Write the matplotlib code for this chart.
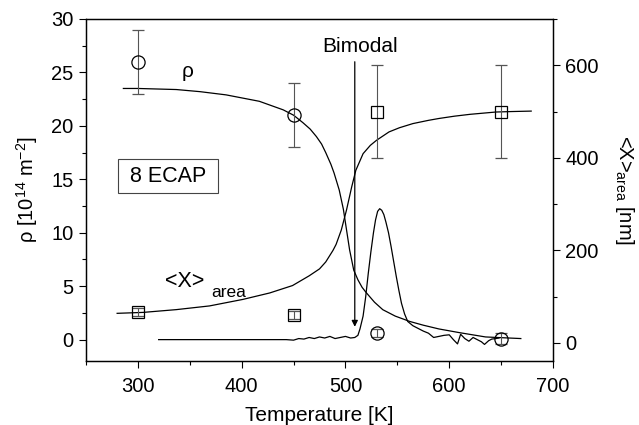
import matplotlib
matplotlib.use('Agg')
import matplotlib.pyplot as plt
from matplotlib.patches import Rectangle
from matplotlib.ticker import MultipleLocator

plt.rcParams['font.family'] = ['Liberation Sans', 'DejaVu Sans']
plt.rcParams['mathtext.fontset'] = 'custom'
plt.rcParams['mathtext.rm'] = 'Liberation Sans'
plt.rcParams['mathtext.it'] = 'Liberation Sans'

# dislocation density rho (left axis)
rho_T = [300, 450, 530, 650]
rho_val = [26, 21, 0.6, 0.1]
rho_err = [3, 3, 0.4, 0.5]

# area weighted crystallite size <X>area (right axis)
x_T = [300, 450, 530, 650]
x_val = [67, 60, 500, 500]
x_err = [8, 8, 100, 100]

# guide curve for rho
rho_fit_T = [286, 300, 337, 360, 385, 417, 440, 450, 459, 466, 472, 477, 481,
             486, 489, 494, 498, 501, 504, 508, 512, 516, 520, 528, 536, 548,
             562, 575, 590, 610, 635, 669]
rho_fit = [23.5, 23.5, 23.4, 23.2, 22.9, 22.3, 21.5, 21.0, 20.3, 19.7, 19.0,
           18.3, 17.5, 16.4, 15.6, 14.0, 12.2, 10.3, 8.4, 6.5, 5.6, 4.9, 4.4,
           3.5, 2.8, 2.2, 1.7, 1.35, 1.0, 0.65, 0.25, 0.1]

# guide curve for <X>area
x_fit_T = [280, 305, 337, 369, 401, 427, 449, 465, 475, 481, 488, 491, 496,
           501, 506, 510, 517, 524, 530, 542, 552, 565, 580, 590, 605, 620,
           635, 645, 660, 679]
x_fit = [64, 66, 72, 80, 94, 108, 124, 145, 160, 175, 200, 213, 244, 287, 337,
         373, 409, 427, 438, 456, 465, 474, 481, 485, 490, 494, 497, 499, 500,
         501]

# DSC trace (plotted against left axis)
dsc_T = [320, 443, 450, 455, 460, 465, 470, 475, 480, 485, 490, 495, 500, 505,
         509, 512, 514, 517, 519.5, 522, 524.5, 527, 529, 531, 533, 535, 537,
         539, 541.5, 544, 546.5, 549, 551.5, 554, 557, 560, 565, 569, 575, 580,
         585, 590, 595, 600, 604, 608, 611, 615, 619, 623, 627, 631, 634, 638,
         641, 645, 648]
dsc = [0, 0, -0.05, 0.1, 0.05, 0.2, 0.1, 0.25, 0.15, 0.3, 0.1, 0.2, 0.3, 0.15,
       0.2, 0.4, 1.0, 2.2, 4.0, 6.2, 8.2, 10.0, 11.2, 12.0, 12.25, 12.1, 11.7,
       11.0, 10.0, 8.7, 7.3, 5.9, 4.6, 3.4, 2.4, 1.7, 1.3, 1.1, 0.8, 0.6, 0.2,
       0.3, 0.4, 0.45, 0.0, -0.4, 0.5, 0.1, -0.15, 0.2, 0.0, -0.2, -0.45,
       -0.1, 0.05, 0.1, 0.15]

fig = plt.figure(figsize=(6.39, 4.25), dpi=100)
ax = fig.add_axes([0.1346, 0.1506, 0.7308, 0.8047])
ax2 = ax.twinx()

lw = 0.9
ax.plot(rho_fit_T, rho_fit, 'k-', lw=lw)
ax.plot(dsc_T, dsc, 'k-', lw=lw)
ax.errorbar(rho_T, rho_val, yerr=rho_err, fmt='o', ms=9.5, mfc='none',
            mec='k', mew=0.9, ecolor='#555555', elinewidth=0.8, capsize=4,
            capthick=0.8)

ax2.plot(x_fit_T, x_fit, 'k-', lw=lw)
ax2.errorbar(x_T, x_val, yerr=x_err, fmt='s', ms=8.5, mfc='none',
             mec='k', mew=0.9, ecolor='#555555', elinewidth=0.8, capsize=4,
             capthick=0.8)

# Bimodal arrow
ax.annotate('', xy=(509, 1.2), xytext=(509, 26.0),
            arrowprops=dict(arrowstyle='-|>', color='k', lw=0.9,
                            mutation_scale=9, shrinkA=0, shrinkB=0))
ax.text(514, 26.9, 'Bimodal', ha='center', va='baseline', fontsize=15)

ax.text(348, 24.6, 'ρ', ha='center', va='baseline', fontsize=15)
ax.text(326, 4.95, '<X>', ha='left', va='baseline', fontsize=15.5)
ax.text(371, 4.0, 'area', ha='left', va='baseline', fontsize=12.5)

# 8 ECAP label box
ax.add_patch(Rectangle((0.0685, 0.491), 0.214, 0.0994, transform=ax.transAxes,
                       fc='white', ec='#444444', lw=0.8, zorder=3))
ax.text(0.1755, 0.5407, '8 ECAP', transform=ax.transAxes, ha='center',
        va='center', fontsize=15.5, zorder=4)

ax.set_xlim(250, 700)
ax.set_ylim(-2, 30)
ax2.set_ylim(-39, 700)

ax.xaxis.set_major_locator(MultipleLocator(100))
ax.xaxis.set_minor_locator(MultipleLocator(50))
ax.yaxis.set_major_locator(MultipleLocator(5))
ax.yaxis.set_minor_locator(MultipleLocator(2.5))
ax2.yaxis.set_major_locator(MultipleLocator(200))
ax2.yaxis.set_minor_locator(MultipleLocator(100))

for a in (ax, ax2):
    a.tick_params(which='major', direction='out', length=5, width=0.8,
                  labelsize=14.5, pad=4)
    a.tick_params(which='minor', direction='out', length=3, width=0.8)
    for s in a.spines.values():
        s.set_linewidth(0.9)
ax.tick_params(axis='x', which='major', pad=6.5)

ax.set_xlabel('Temperature [K]', fontsize=15, labelpad=7)
ax.set_ylabel(r'ρ [10$^{14}$ m$^{-2}$]', fontsize=14.5, labelpad=8)
ax2.set_ylabel(r'<X>$_{\mathregular{area}}$ [nm]', fontsize=14.5,
               rotation=270, labelpad=27)

fig.savefig('out.png', dpi=100)
